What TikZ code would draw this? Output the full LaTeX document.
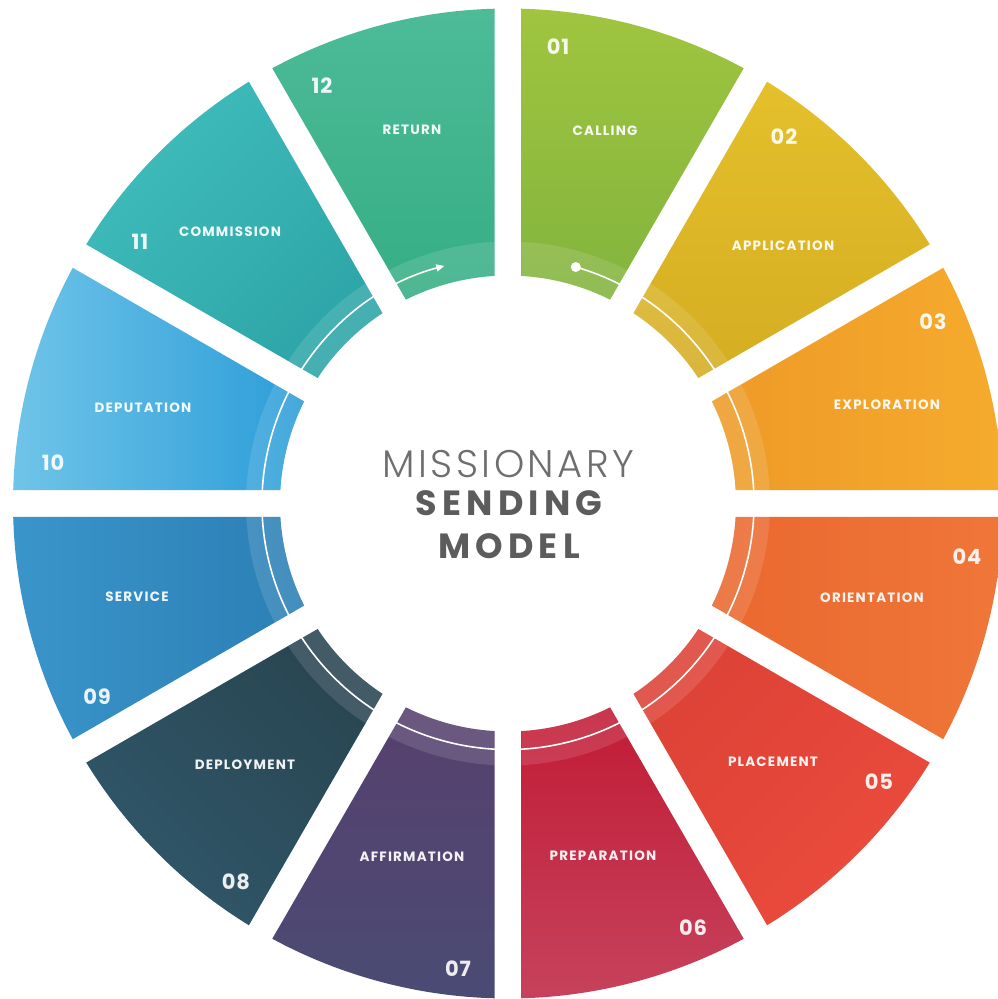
\documentclass[tikz,border=0pt]{standalone}
\usepackage{fontspec}
\usetikzlibrary{arrows.meta}
\setmainfont{Poppins}
\newfontfamily\lblfont[LetterSpace=9]{Poppins}
\newfontfamily\numfont[LetterSpace=4]{Poppins}
\newfontfamily\titlelight[LetterSpace=9]{Poppins Light}
\newfontfamily\titlebold[LetterSpace=15]{Poppins}
\definecolor{ca1}{HTML}{A0C53F}\definecolor{cb1}{HTML}{82B43E}
\definecolor{ca2}{HTML}{E4C02B}\definecolor{cb2}{HTML}{D5AD22}
\definecolor{ca3}{HTML}{EE9A27}\definecolor{cb3}{HTML}{F5AB2D}
\definecolor{ca4}{HTML}{EA682F}\definecolor{cb4}{HTML}{EF7639}
\definecolor{ca5}{HTML}{DD4236}\definecolor{cb5}{HTML}{EA4B3C}
\definecolor{ca6}{HTML}{C21B35}\definecolor{cb6}{HTML}{C6425C}
\definecolor{ca7}{HTML}{57406E}\definecolor{cb7}{HTML}{4A4B74}
\definecolor{ca8}{HTML}{294551}\definecolor{cb8}{HTML}{30576A}
\definecolor{ca9}{HTML}{3A95CA}\definecolor{cb9}{HTML}{2B7FB5}
\definecolor{ca10}{HTML}{6FC4E8}\definecolor{cb10}{HTML}{2C9DD8}
\definecolor{ca11}{HTML}{40BCBB}\definecolor{cb11}{HTML}{2DA5A8}
\definecolor{ca12}{HTML}{4DBB98}\definecolor{cb12}{HTML}{35AE84}
\definecolor{titleA}{HTML}{6E6E6E}
\definecolor{titleB}{HTML}{5C5C5C}
\tikzset{
  lbl/.style={font=\lblfont\bfseries\fontsize{13.5}{15}\selectfont, text=white, text opacity=.93, inner sep=0pt},
  num/.style={font=\numfont\bfseries\fontsize{21}{24}\selectfont, text=white, text opacity=.9, inner sep=0pt},
}
\begin{document}
\begin{tikzpicture}
\useasboundingbox (-508pt,-495.5pt) rectangle (489pt,503.5pt);
\def\Ro{495}\def\Ri{228}\def\Rb{262}\def\G{13.5}
\pgfmathsetmacro\dRo{asin(\G/\Ro)}
\pgfmathsetmacro\dRi{asin(\G/\Ri)}
\pgfmathsetmacro\dRb{asin(\G/\Rb)}
\foreach \k/\ang in {1/0,2/0,3/90,4/90,5/45,6/0,7/0,8/-45,9/90,10/90,11/45,12/0}{
  \pgfmathsetmacro\ta{120-30*\k}
  \pgfmathsetmacro\tb{90-30*\k}
  \pgfmathsetmacro\oa{\ta-\dRo}\pgfmathsetmacro\ob{\tb+\dRo}
  \pgfmathsetmacro\ia{\ta-\dRi}\pgfmathsetmacro\ib{\tb+\dRi}
  \pgfmathsetmacro\ba{\ta-\dRb}\pgfmathsetmacro\bb{\tb+\dRb}
  \shade[top color=ca\k, bottom color=cb\k, shading angle=\ang]
    (\oa:\Ro pt) arc[start angle=\oa, end angle=\ob, radius=\Ro pt]
    -- (\ib:\Ri pt) arc[start angle=\ib, end angle=\ia, radius=\Ri pt] -- cycle;
  \fill[white, fill opacity=0.12]
    (\ba:\Rb pt) arc[start angle=\ba, end angle=\bb, radius=\Rb pt]
    -- (\ib:\Ri pt) arc[start angle=\ib, end angle=\ia, radius=\Ri pt] -- cycle;
}
% cycle line
\coordinate (cstart) at (74:246pt);
\draw[white, line width=1.6pt, -{Triangle[length=8pt,width=7pt]}]
  (cstart) arc[start angle=74, end angle=-255, radius=246pt];
\fill[white] (cstart) circle (5pt);
% title
\node[font=\titlelight\fontsize{38.5}{40}\selectfont, text=titleA, anchor=base, inner sep=0pt] (t1) at (0.5pt,26.5pt) {MISSIONARY};
\node[font=\titlebold\bfseries\fontsize{35}{38}\selectfont, text=titleB, anchor=base, inner sep=0pt] (t2) at (1pt,-11.5pt) {SENDING};
\node[font=\titlebold\bfseries\fontsize{35}{38}\selectfont, text=titleB, anchor=base, inner sep=0pt] (t3) at (1pt,-54.5pt) {MODEL};
% labels
\node[num] (n01) at (50pt,456.5pt) {01};   \node[lbl] (l01) at (97pt,372.5pt) {CALLING};
\node[num] (n02) at (276pt,366.5pt) {02};  \node[lbl] (l02) at (275pt,257.5pt) {APPLICATION};
\node[num] (n03) at (425pt,181.5pt) {03};  \node[lbl] (l03) at (379pt,98.5pt) {EXPLORATION};
\node[num] (n04) at (459pt,-53.5pt) {04};  \node[lbl] (l04) at (364pt,-94.5pt) {ORIENTATION};
\node[num] (n05) at (371pt,-278.5pt) {05}; \node[lbl] (l05) at (265pt,-258.5pt) {PLACEMENT};
\node[num] (n06) at (185pt,-424.5pt) {06}; \node[lbl] (l06) at (95pt,-352.5pt) {PREPARATION};
\node[num] (n07) at (-50pt,-465.5pt) {07}; \node[lbl] (l07) at (-96pt,-353.5pt) {AFFIRMATION};
\node[num] (n08) at (-272pt,-378.5pt) {08};\node[lbl] (l08) at (-263pt,-261.5pt) {DEPLOYMENT};
\node[num] (n09) at (-411pt,-193.5pt) {09};\node[lbl] (l09) at (-371pt,-93.5pt) {SERVICE};
\node[num] (n10) at (-455pt,40.5pt) {10};  \node[lbl] (l10) at (-365pt,95.5pt) {DEPUTATION};
\node[num] (n11) at (-368pt,261.5pt) {11}; \node[lbl] (l11) at (-278pt,271.5pt) {COMMISSION};
\node[num] (n12) at (-186pt,417.5pt) {12}; \node[lbl] (l12) at (-96pt,373.5pt) {RETURN};
\end{tikzpicture}
\end{document}
